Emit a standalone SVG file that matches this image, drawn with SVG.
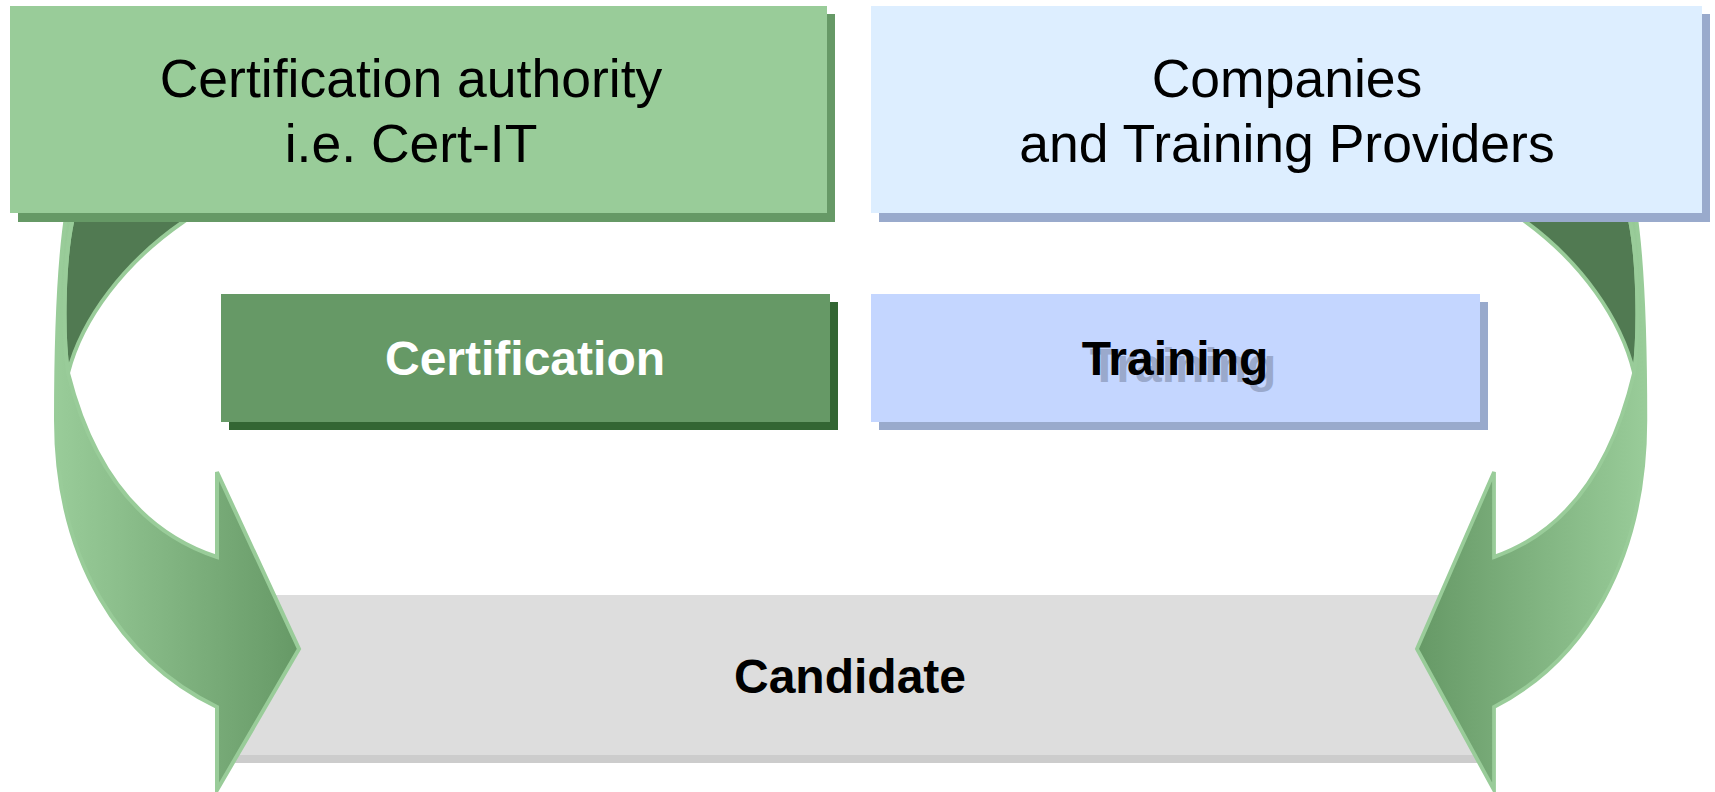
<svg xmlns="http://www.w3.org/2000/svg" xmlns:xlink="http://www.w3.org/1999/xlink" width="1715" height="792" viewBox="0 0 1715 792">
  <style>
    .t { font-family: "Liberation Sans", Arial, sans-serif; text-anchor: middle; }
    .big { font-size: 53.5px; fill: #000; }
    .bold { font-size: 48px; font-weight: bold; }
    .arrowline { stroke: #99CC99; stroke-width: 4; stroke-linejoin: miter; }
  </style>
  <defs>
    <linearGradient id="arrowGrad" gradientUnits="userSpaceOnUse" x1="56" y1="0" x2="299" y2="0">
      <stop offset="0" stop-color="#99CC99"/>
      <stop offset="1" stop-color="#669966"/>
    </linearGradient>
    <g id="curvedArrow">
      <path class="arrowline" fill="#517A52" d="M 72,222 C 64,260 62,330 68,373 C 82,318 125,262 183,222 L 200,210 L 74,210 Z"/>
      <path class="arrowline" fill="url(#arrowGrad)" d="M 74,210 L 67,210 C 59,260 56,330 56,420 C 56,560 120,660 217,707 L 217,790 L 299,649 L 217,472 L 217,557 C 150,535 95,480 68,373 C 62,330 64,260 72,222 Z"/>
    </g>
  </defs>

  <g id="candidate">
    <rect x="230" y="603" width="1248" height="160" fill="#CCCCCC"/>
    <rect x="222" y="595" width="1256" height="160" fill="#DDDDDD"/>
    <text class="t bold" x="850" y="693" fill="#000">Candidate</text>
  </g>

  <g id="connectors">
    <use id="arrow-left" xlink:href="#curvedArrow"/>
    <use id="arrow-right" xlink:href="#curvedArrow" transform="matrix(-0.94 0 0 1 1698 0)"/>
  </g>

  <g id="cert-authority">
    <rect x="18" y="14" width="817" height="208" fill="#669966"/>
    <rect x="10" y="6" width="817" height="207" fill="#99CC99"/>
    <text class="t big" x="411" y="97">Certification authority</text>
    <text class="t big" x="411" y="162">i.e. Cert-IT</text>
  </g>

  <g id="companies">
    <rect x="879" y="14" width="831" height="208" fill="#99AACC"/>
    <rect x="871" y="6" width="831" height="207" fill="#DDEEFF"/>
    <text class="t big" x="1287" y="97">Companies</text>
    <text class="t big" x="1287" y="162">and Training Providers</text>
  </g>

  <g id="certification">
    <rect x="229" y="302" width="609" height="128" fill="#336633"/>
    <rect x="221" y="294" width="609" height="128" fill="#669966"/>
    <text class="t bold" x="525" y="375" fill="#FFFFFF">Certification</text>
  </g>

  <g id="training">
    <rect x="879" y="302" width="609" height="128" fill="#99AACC"/>
    <rect x="871" y="294" width="609" height="128" fill="#C4D6FF"/>
    <text class="t bold" x="1183" y="382" fill="#9AA9CC">Training</text>
    <text class="t bold" x="1175" y="375" fill="#000">Training</text>
  </g>
</svg>
